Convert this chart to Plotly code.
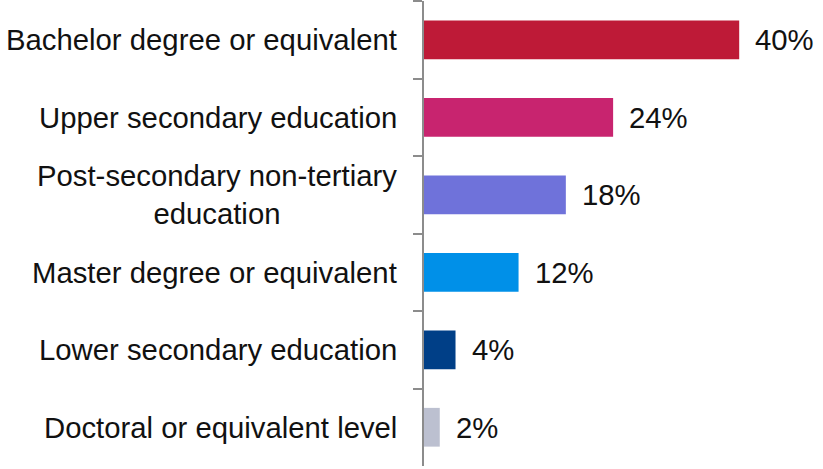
import plotly.graph_objects as go

categories = ["Bachelor degree or equivalent", "Upper secondary education",
              "Post-secondary non-tertiary<br>education", "Master degree or equivalent",
              "Lower secondary education", "Doctoral or equivalent level"]
values = [40, 24, 18, 12, 4, 2]
colors = ["#BE1A37", "#C8246F", "#6F72DA", "#0090E8", "#003F87", "#BCC0D0"]
labels = [f"{v}%" for v in values]

FONT = "Liberation Sans, Arial"

fig = go.Figure(go.Bar(
    y=categories, x=values, orientation="h",
    marker=dict(color=colors, line=dict(width=0)),
    hoverinfo="skip",
))

for c, v, t in zip(categories, values, labels):
    fig.add_annotation(x=v, y=c, text=t, showarrow=False, xanchor="left",
                       xshift=14, font=dict(size=29.3, color="#111111", family=FONT))
    fig.add_annotation(x=0, xref="paper", y=c, text=c, showarrow=False,
                       xanchor="right", align="center", xshift=-25,
                       font=dict(size=29.3, color="#111111", family=FONT))

fig.update_layout(
    width=823, height=469,
    margin=dict(l=424, r=5, t=1, b=3),
    plot_bgcolor="white", paper_bgcolor="white",
    showlegend=False, bargap=0.5,
    font=dict(family=FONT, size=29, color="#111111"),
)
fig.update_xaxes(range=[0, 50], visible=False, automargin=False)
fig.update_yaxes(
    type="category", autorange="reversed", tickson="boundaries",
    showline=True, linecolor="#8C8C8C", linewidth=2,
    ticks="outside", ticklen=9, tickcolor="#8C8C8C", tickwidth=2,
    showticklabels=False, automargin=False,
    showgrid=False, zeroline=False,
)

fig.write_html("out.html", config={"displayModeBar": False},
               post_script="document.body.style.margin='0';")
